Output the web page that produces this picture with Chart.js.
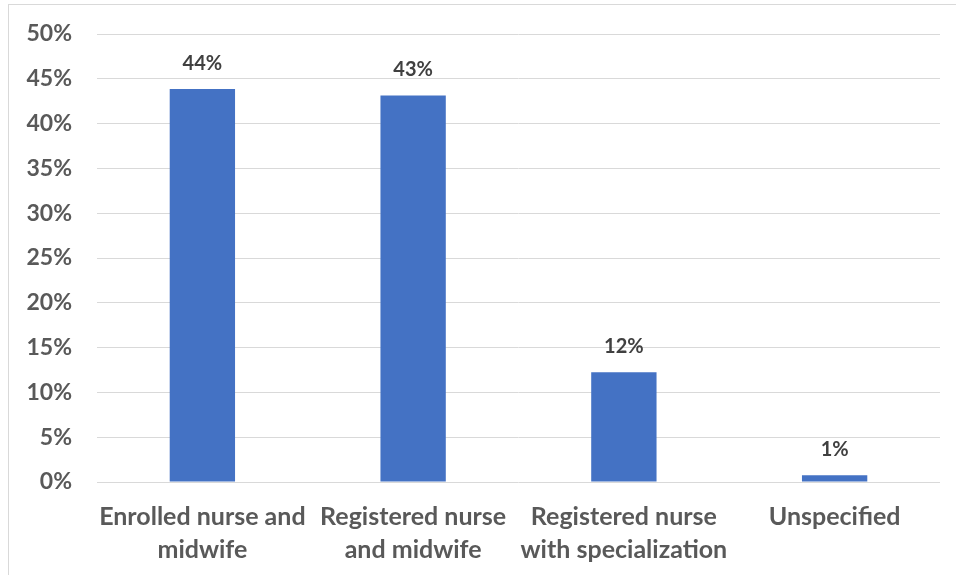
<!DOCTYPE html>
<html>
<head>
<meta charset="utf-8">
<script src="https://cdn.jsdelivr.net/npm/chart.js@4"></script>
<style>
  body { margin: 0; background: #fff; }
  #wrap { position: relative; width: 956px; height: 575px; }
  #frame { position: absolute; left: 8px; top: 4px; width: 960px; height: 575px; border: 1px solid #d9d9d9; box-sizing: border-box; }
  canvas { position: absolute; left: 0; top: 0; }
</style>
</head>
<body>
<div id="wrap">
  <div id="frame"></div>
  <canvas id="myChart" width="956" height="575"></canvas>
</div>
<script>
// categories and values
var categories = [
  ['Enrolled nurse and', 'midwife'],
  ['Registered nurse', 'and midwife'],
  ['Registered nurse', 'with specialization'],
  'Unspecified'
];
var shares = [43.85, 43.15, 12.25, 0.75];
var yTicks = [0, 5, 10, 15, 20, 25, 30, 35, 40, 45, 50];

// draw the value above each bar
var barLabels = {
  id: 'barLabels',
  afterDatasetsDraw: function(chart) {
    var ctx = chart.ctx;
    var meta = chart.getDatasetMeta(0);
    ctx.save();
    ctx.font = 'bold 20px Lato';
    ctx.fillStyle = '#404040';
    ctx.textAlign = 'center';
    ctx.textBaseline = 'middle';
    meta.data.forEach(function(bar, i) {
      ctx.fillText(Math.round(shares[i]) + '%', bar.x, bar.y - 26);
    });
    ctx.restore();
  }
};

var canvas = document.getElementById('myChart');

const chart = new Chart(canvas, {
  type: 'bar',
  data: {
    labels: categories,
    datasets: [{
      data: shares,
      backgroundColor: '#4472C4',
      categoryPercentage: 1,
      barPercentage: 0.31
    }]
  },
  options: {
    responsive: false,
    animation: false,
    layout: { padding: { top: 34, right: 16, left: 0, bottom: 0 } },
    plugins: {
      legend: { display: false },
      tooltip: { enabled: false }
    },
    scales: {
      x: {
        grid: { display: false },
        border: { display: false },
        ticks: {
          color: '#595959',
          font: { family: 'Lato', size: 25, weight: 'bold', lineHeight: 1.3 },
          padding: 11,
          maxRotation: 0,
          autoSkip: false
        },
        afterFit: function(scale) { scale.height = 93; }
      },
      y: {
        min: 0,
        max: 50,
        afterBuildTicks: function(scale) {
          scale.ticks = yTicks.map(function(v) { return { value: v }; });
        },
        grid: { color: '#d9d9d9', lineWidth: 1, drawTicks: false },
        border: { display: false },
        ticks: {
          color: '#595959',
          font: { family: 'Lato', size: 23, weight: 'bold' },
          padding: 25,
          callback: function(v) { return v + '%'; }
        },
        afterFit: function(scale) {
          scale.width = 97;
          scale.paddingTop = 0;
          scale.paddingBottom = 0;
        }
      }
    }
  },
  plugins: [barLabels]
});
</script>
</body>
</html>
